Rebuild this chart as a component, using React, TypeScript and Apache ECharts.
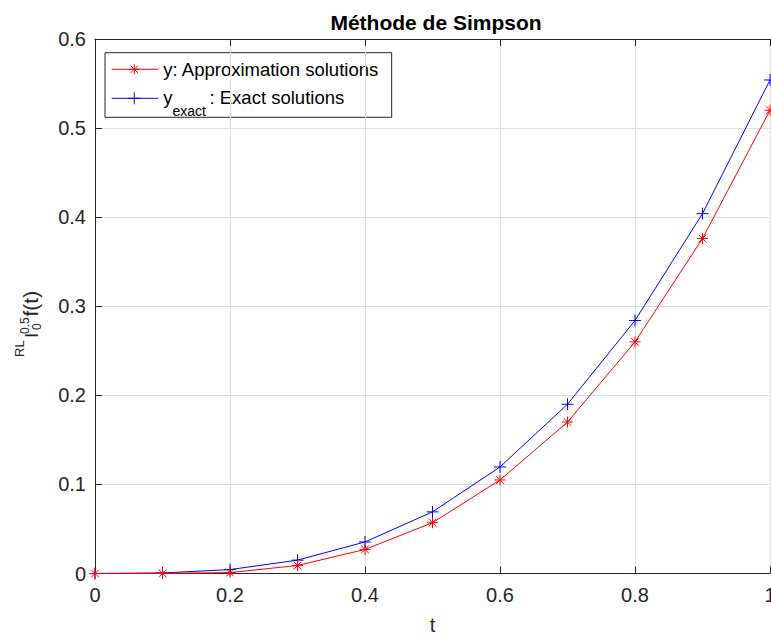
import React, { useEffect, useRef } from "react";
import * as echarts from "echarts";

const tValues = [0, 0.1, 0.2, 0.3, 0.4, 0.5, 0.6, 0.7, 0.8, 0.9, 1.0];
const approxValues = [0, 0.0002, 0.001, 0.009, 0.027, 0.057, 0.105, 0.17, 0.26, 0.376, 0.52];
const exactValues = [0, 0.0006, 0.0044, 0.015, 0.0354, 0.0692, 0.1196, 0.19, 0.284, 0.404, 0.554];

const titleText = "Méthode de Simpson";
const xName = "t";
const approxName = "y: Approximation solutions";
const exactSub = "exact";
const exactRest = ": Exact solutions";

const FONT = "'Liberation Sans', Arial, Helvetica, sans-serif";
const AX = "#262626";

const asteriskPath = "path://M0,5L10,5M5,0L5,10M1.46,1.46L8.54,8.54M1.46,8.54L8.54,1.46";
const plusPath = "path://M0,5L10,5M5,0L5,10";

function asteriskGraphic(cx: number, cy: number, r: number, color: string) {
  const d = r * 0.707;
  const segs = [
    [cx - r, cy, cx + r, cy],
    [cx, cy - r, cx, cy + r],
    [cx - d, cy - d, cx + d, cy + d],
    [cx - d, cy + d, cx + d, cy - d],
  ];
  return segs.map((s) => ({
    type: "line",
    shape: { x1: s[0], y1: s[1], x2: s[2], y2: s[3] },
    style: { stroke: color, lineWidth: 1 },
  }));
}
function plusGraphic(cx: number, cy: number, r: number, color: string) {
  return [
    { type: "line", shape: { x1: cx - r, y1: cy, x2: cx + r, y2: cy }, style: { stroke: color, lineWidth: 1 } },
    { type: "line", shape: { x1: cx, y1: cy - r, x2: cx, y2: cy + r }, style: { stroke: color, lineWidth: 1 } },
  ];
}

function rotText(text: string, x: number, y: number, size: number) {
  return {
    type: "text",
    x,
    y,
    rotation: Math.PI / 2,
    style: {
      text,
      x: 0,
      y: 0,
      fill: AX,
      font: `${size}px ${FONT}`,
      align: "left",
      verticalAlign: "middle",
    },
  };
}

export default function App() {
  const ref = useRef<HTMLDivElement>(null);
  useEffect(() => {
    if (!ref.current) return;
    const chart = echarts.init(ref.current, undefined, { renderer: "svg", width: 771, height: 634 });
    const axisCommon = {
      type: "value",
      axisLine: { show: true, onZero: false, lineStyle: { color: AX, width: 1 } },
      axisTick: { show: true, inside: true, length: 7, lineStyle: { color: AX } },
    };
    const legendLeft = 105;
    const legendTop = 52.7;
    chart.setOption({
      animation: false,
      backgroundColor: "#ffffff",
      title: {
        text: titleText,
        left: 431,
        top: 7,
        textAlign: "center",
        textStyle: { fontFamily: FONT, fontSize: 21, fontWeight: "bold", color: "#000000" },
      },
      grid: {
        left: 95,
        right: 1,
        top: 39,
        bottom: 60.5,
        containLabel: false,
        outerBoundsMode: "none",
      },
      xAxis: [
        {
          ...axisCommon,
          position: "bottom",
          min: 0,
          max: 1,
          interval: 0.2,
          name: xName,
          nameLocation: "middle",
          nameGap: 41,
          nameTextStyle: { fontFamily: FONT, fontSize: 20, color: AX },
          axisLabel: { fontFamily: FONT, fontSize: 20, color: AX, margin: 11 },
          splitLine: { show: true, lineStyle: { color: "#dedede", width: 1 } },
        },
        {
          ...axisCommon,
          position: "top",
          min: 0,
          max: 1,
          interval: 0.2,
          axisLabel: { show: false },
          splitLine: { show: false },
        },
      ],
      yAxis: {
        ...axisCommon,
        min: 0,
        max: 0.6,
        interval: 0.1,
        axisLabel: { fontFamily: FONT, fontSize: 20, color: AX, margin: 9 },
        splitLine: { show: true, lineStyle: { color: "#dedede", width: 1 } },
      },
      series: [
        {
          name: approxName,
          type: "line",
          xAxisIndex: 0,
          data: tValues.map((t, i) => [t, approxValues[i]]),
          symbol: asteriskPath,
          symbolSize: 11,
          symbolKeepAspect: true,
          showAllSymbol: true,
          lineStyle: { color: "#ff0000", width: 1 },
          itemStyle: { color: "none", borderColor: "#ff0000", borderWidth: 1 },
          z: 3,
        },
        {
          name: "y_exact",
          type: "line",
          xAxisIndex: 0,
          data: tValues.map((t, i) => [t, exactValues[i]]),
          symbol: plusPath,
          symbolSize: 12,
          symbolKeepAspect: true,
          showAllSymbol: true,
          lineStyle: { color: "#0000ff", width: 1 },
          itemStyle: { color: "none", borderColor: "#0000ff", borderWidth: 1 },
          z: 2,
        },
      ],
      graphic: [
        {
          type: "group",
          z: 100,
          children: [
            {
              type: "rect",
              shape: { x: legendLeft, y: legendTop, width: 286.7, height: 64.6 },
              style: { fill: "#ffffff", stroke: AX, lineWidth: 1 },
            },
            {
              type: "line",
              shape: { x1: 111.7, y1: 69.3, x2: 158.3, y2: 69.3 },
              style: { stroke: "#ff0000", lineWidth: 1 },
            },
            ...asteriskGraphic(134.3, 69.3, 5, "#ff0000"),
            {
              type: "line",
              shape: { x1: 111.7, y1: 98.3, x2: 158.3, y2: 98.3 },
              style: { stroke: "#0000ff", lineWidth: 1 },
            },
            ...plusGraphic(134.3, 98.3, 6, "#0000ff"),
            {
              type: "text",
              style: {
                text: approxName,
                x: 163.3,
                y: 69.3,
                fill: "#000000",
                font: `18.5px ${FONT}`,
                align: "left",
                verticalAlign: "middle",
              },
            },
            {
              type: "text",
              style: {
                text: "y",
                x: 163.3,
                y: 97,
                fill: "#000000",
                font: `18.5px ${FONT}`,
                align: "left",
                verticalAlign: "middle",
              },
            },
            {
              type: "text",
              style: {
                text: exactSub,
                x: 172.5,
                y: 110.5,
                fill: "#000000",
                font: `14px ${FONT}`,
                align: "left",
                verticalAlign: "middle",
              },
            },
            {
              type: "text",
              style: {
                text: exactRest,
                x: 209.5,
                y: 97,
                fill: "#000000",
                font: `18.5px ${FONT}`,
                align: "left",
                verticalAlign: "middle",
              },
            },
          ],
        },
        {
          type: "group",
          z: 100,
          children: [
            rotText("RL", 19.5, 357, 13),
            rotText("I", 31.8, 338, 19),
            rotText("0.5", 24.5, 334, 12),
            rotText("0", 36.8, 330, 12),
            rotText("f(t)", 30.5, 316.5, 21),
          ],
        },
      ],
    });
    return () => chart.dispose();
  }, []);
  return (
    <div
      ref={ref}
      style={{ position: "fixed", left: 0, top: 0, width: 771, height: 634, background: "#fff" }}
    />
  );
}
